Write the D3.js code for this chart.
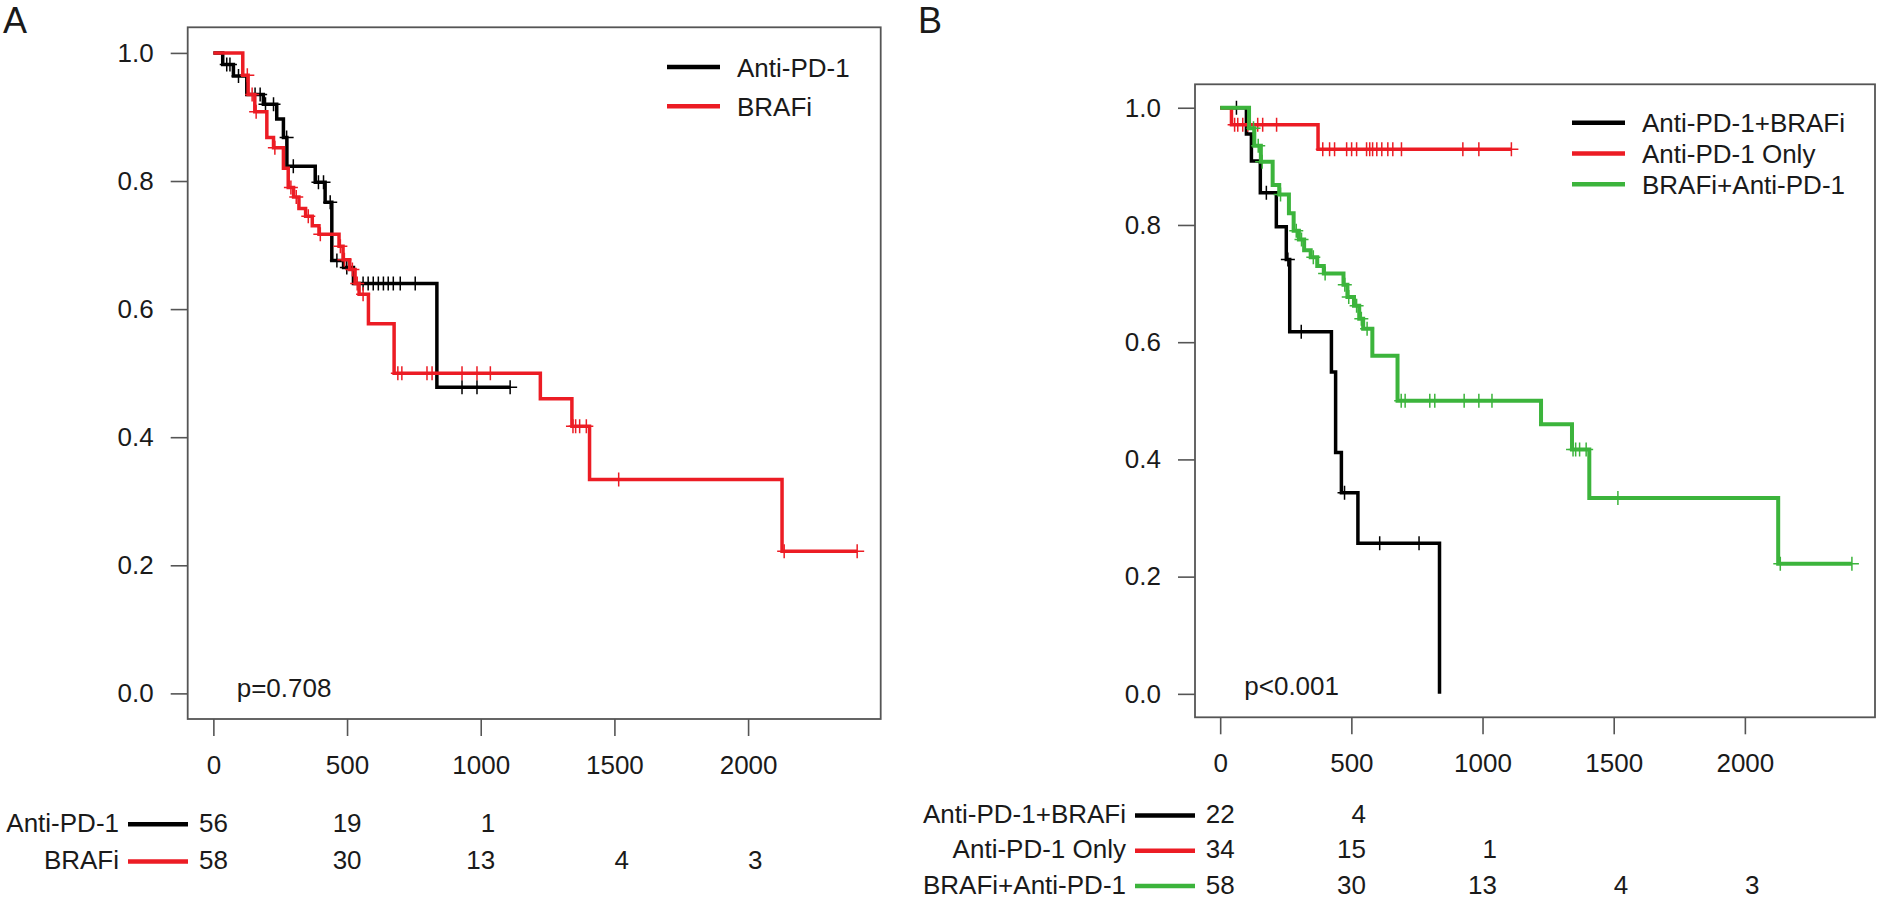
<!DOCTYPE html>
<html>
<head>
<meta charset="utf-8">
<script src="https://cdn.jsdelivr.net/npm/d3@7.9.0/dist/d3.min.js"></script>
<style>
  body { margin: 0; background: #fff; }
  svg { display: block; font-family: "Liberation Sans", Arial, sans-serif; }
  text { fill: #1a1a1a; }
</style>
</head>
<body>
<svg id="chart" width="1877" height="899"></svg>
<script>
// axis ticks
const timeTicks = [0, 500, 1000, 1500, 2000];
const survTicks = [0, 0.2, 0.4, 0.6, 0.8, 1.0];

// Panel A: Anti-PD-1
const antiPd1Times = [0, 35, 75, 125, 187, 237, 262, 275, 381, 418, 443, 487, 524, 836];
const antiPd1Surv = [1, 0.982, 0.964, 0.935, 0.92, 0.897, 0.868, 0.823, 0.798, 0.767, 0.676, 0.665, 0.64, 0.478];
const antiPd1End = 1110;
const antiPd1Censor = [50, 62, 94, 156, 175, 195, 225, 274, 299, 393, 412, 437, 462, 499, 560, 579, 598, 617, 636, 654, 673, 699, 755, 930, 986, 1110];

// BRAFi (same group is BRAFi+Anti-PD-1 in panel B)
const brafiTimes = [0, 110, 130, 155, 200, 225, 262, 280, 300, 320, 345, 370, 395, 470, 485, 510, 530, 545, 580, 676, 1223, 1341, 1407, 2127];
const brafiSurv = [1, 0.965, 0.935, 0.908, 0.868, 0.852, 0.82, 0.79, 0.775, 0.757, 0.745, 0.73, 0.717, 0.698, 0.677, 0.662, 0.64, 0.623, 0.577, 0.5, 0.46, 0.417, 0.334, 0.222];
const brafiEnd = 2408;
const brafiCensor = [127, 145, 160, 230, 290, 310, 355, 400, 475, 490, 520, 538, 560, 690, 705, 799, 818, 930, 986, 1036, 1345, 1355, 1370, 1395, 1516, 2135, 2408];

// Panel B: Anti-PD-1+BRAFi
const comboTimes = [0, 100, 119, 153, 214, 252, 265, 424, 440, 462, 525, 836];
const comboSurv = [1, 0.955, 0.909, 0.855, 0.797, 0.741, 0.618, 0.549, 0.412, 0.343, 0.257, 0];
const comboEnd = 836;
const comboCensor = [62, 176, 258, 309, 474, 608, 758];

// Panel B: Anti-PD-1 Only
const onlyTimes = [0, 43, 373];
const onlySurv = [1, 0.971, 0.929];
const onlyEnd = 1110;
const onlyCensor = [55, 67, 86, 105, 143, 162, 215, 391, 417, 436, 482, 501, 520, 558, 570, 581, 597, 616, 639, 658, 691, 925, 986, 1110];

// numbers at risk
const riskAntiPd1 = [56, 19, 1];
const riskBrafi = [58, 30, 13, 4, 3];
const riskCombo = [22, 4];
const riskOnly = [34, 15, 1];

const legendA = ['Anti-PD-1', 'BRAFi'];
const legendB = ['Anti-PD-1+BRAFi', 'Anti-PD-1 Only', 'BRAFi+Anti-PD-1'];

const BLACK = '#000000', RED = '#ec1c24', GREEN = '#3cb43c', AXIS = '#555555';

const svg = d3.select('#chart');

function drawPanel(p) {
  const x = d3.scaleLinear().domain([-96, 2496]).range([p.left, p.right]);
  const y = d3.scaleLinear().domain([-0.04, 1.04]).range([p.bottom, p.top]);
  const g = svg.append('g');

  // panel letter
  g.append('text').attr('x', p.letterX).attr('y', 33)
    .style('font-size', '36px').text(p.letter);

  // y axis
  const yAxis = g.append('g').attr('transform', `translate(${p.left},0)`)
    .call(d3.axisLeft(y).tickValues(survTicks).tickSize(17).tickPadding(17).tickFormat(d3.format('.1f')));
  yAxis.select('.domain').remove();
  yAxis.selectAll('line').attr('stroke', AXIS).attr('stroke-width', 1.6);
  yAxis.selectAll('text').style('font-size', '26px').attr('fill', '#1a1a1a').attr('font-family', null);

  // x axis
  const xAxis = g.append('g').attr('transform', `translate(0,${p.bottom})`)
    .call(d3.axisBottom(x).tickValues(timeTicks).tickSize(17).tickFormat(d3.format('d')));
  xAxis.select('.domain').remove();
  xAxis.selectAll('line').attr('stroke', AXIS).attr('stroke-width', 1.6);
  xAxis.selectAll('text').style('font-size', '26px').attr('fill', '#1a1a1a').attr('font-family', null)
    .attr('y', 55).attr('dy', 0);

  // box
  g.append('rect').attr('x', p.left).attr('y', p.top)
    .attr('width', p.right - p.left).attr('height', p.bottom - p.top)
    .attr('fill', 'none').attr('stroke', AXIS).attr('stroke-width', 1.8);

  // curves
  const line = d3.line().x(d => x(d[0])).y(d => y(d[1])).curve(d3.curveStepAfter);
  p.curves.forEach(c => {
    const pts = c.times.map((t, i) => [t, c.surv[i]]);
    pts.push([c.end, c.surv[c.surv.length - 1]]);
    g.append('path').attr('d', line(pts)).attr('fill', 'none')
      .attr('stroke', c.color).attr('stroke-width', c.width || 3.5);

    const survAt = t => c.surv[d3.bisectRight(c.times, t) - 1];
    g.append('g').selectAll('path').data(c.censor).join('path')
      .attr('d', t => `M${x(t) - 7},${y(survAt(t))}h14M${x(t)},${y(survAt(t)) - 7}v14`)
      .attr('stroke', c.color).attr('stroke-width', 1.5).attr('fill', 'none');
  });

  // legend
  p.curves.forEach((c, i) => {
    const ly = p.legY + i * p.legStep;
    g.append('line').attr('x1', p.legX).attr('x2', p.legX + 53).attr('y1', ly).attr('y2', ly)
      .attr('stroke', c.color).attr('stroke-width', 4.5);
    g.append('text').attr('x', p.legX + 70).attr('y', ly + 9.5)
      .style('font-size', '26px').text(c.label);
  });

  // p value
  g.append('text').attr('x', p.pX).attr('y', p.pY).style('font-size', '26px').text(p.pText);

  // risk table
  p.curves.forEach((c, i) => {
    const ry = p.riskY + i * p.riskStep;
    g.append('text').attr('x', p.riskLabelX).attr('y', ry).attr('text-anchor', 'end')
      .style('font-size', '26px').text(c.label);
    g.append('line').attr('x1', p.riskLabelX + 9).attr('x2', p.riskLabelX + 69)
      .attr('y1', ry - 7.5).attr('y2', ry - 7.5)
      .attr('stroke', c.color).attr('stroke-width', 4.5);
    g.append('g').selectAll('text').data(c.risk).join('text')
      .attr('x', (d, j) => x(timeTicks[j]) + 14.5).attr('y', ry)
      .attr('text-anchor', 'end').style('font-size', '26px').text(d => d);
  });
}

drawPanel({
  letter: 'A', letterX: 3,
  left: 187.7, right: 880.7, top: 27.3, bottom: 719,
  legX: 667, legY: 67, legStep: 39.3,
  pX: 236.7, pY: 696.7, pText: 'p=0.708',
  riskLabelX: 119, riskY: 831.7, riskStep: 37.3,
  curves: [
    { label: legendA[0], color: BLACK, times: antiPd1Times, surv: antiPd1Surv, end: antiPd1End, censor: antiPd1Censor, risk: riskAntiPd1 },
    { label: legendA[1], color: RED, times: brafiTimes, surv: brafiSurv, end: brafiEnd, censor: brafiCensor, risk: riskBrafi }
  ]
});

drawPanel({
  letter: 'B', letterX: 918,
  left: 1195, right: 1875, top: 84.3, bottom: 717.3,
  legX: 1572, legY: 122.7, legStep: 30.8,
  pX: 1244.3, pY: 695, pText: 'p<0.001',
  riskLabelX: 1126, riskY: 823, riskStep: 35.3,
  curves: [
    { label: legendB[0], color: BLACK, times: comboTimes, surv: comboSurv, end: comboEnd, censor: comboCensor, risk: riskCombo },
    { label: legendB[1], color: RED, times: onlyTimes, surv: onlySurv, end: onlyEnd, censor: onlyCensor, risk: riskOnly },
    { label: legendB[2], color: GREEN, width: 4, times: brafiTimes, surv: brafiSurv, end: brafiEnd, censor: brafiCensor, risk: riskBrafi }
  ]
});
</script>
</body>
</html>
